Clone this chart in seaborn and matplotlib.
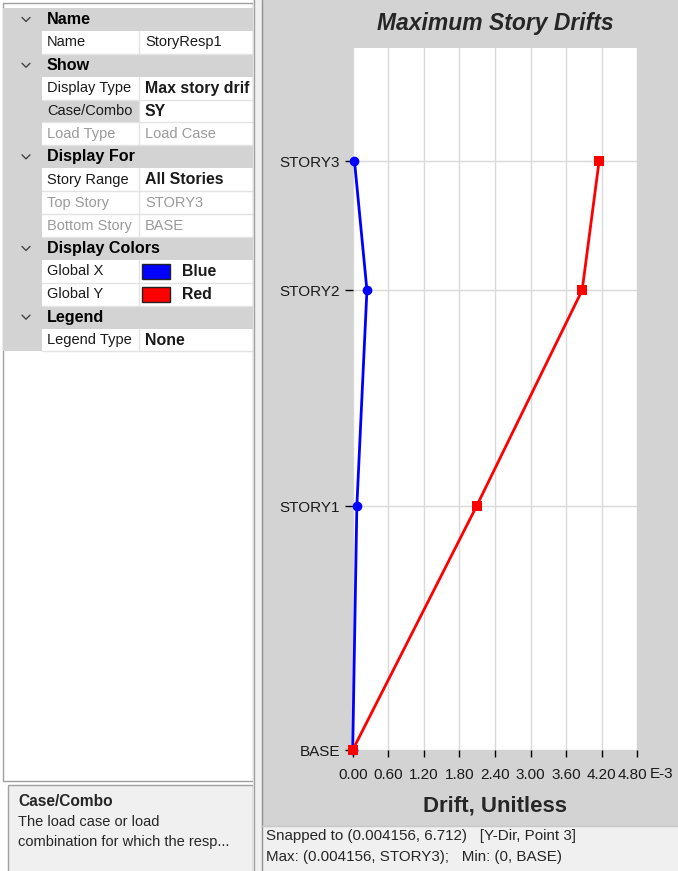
import numpy as np
import pandas as pd
import matplotlib
matplotlib.use("Agg")
import matplotlib.pyplot as plt
import matplotlib.transforms as mtransforms
import seaborn as sns
from matplotlib.patches import Rectangle
from matplotlib.ticker import FormatStrFormatter

# data
stories = ["BASE", "STORY1", "STORY2", "STORY3"]
elev = [0.0, 2.78, 5.24, 6.712]
drift_x = [0.0, 0.07, 0.24, 0.03]      # E-3
drift_y = [0.0, 2.09, 3.87, 4.156]     # E-3
xticks = [0.0, 0.6, 1.2, 1.8, 2.4, 3.0, 3.6, 4.2, 4.8]

grid_rows = [
    ("h", "Name", ""),
    ("n", "Name", "StoryResp1"),
    ("h", "Show", ""),
    ("b", "Display Type", "Max story drif"),
    ("s", "Case/Combo", "SY"),
    ("d", "Load Type", "Load Case"),
    ("h", "Display For", ""),
    ("b", "Story Range", "All Stories"),
    ("d", "Top Story", "STORY3"),
    ("d", "Bottom Story", "BASE"),
    ("h", "Display Colors", ""),
    ("c", "Global X", "Blue"),
    ("c", "Global Y", "Red"),
    ("h", "Legend", ""),
    ("b", "Legend Type", "None"),
]
swatch = {"Blue": "#0000ff", "Red": "#ff0000"}

sns.set_theme(style="white")
plt.rcParams["font.family"] = ["Liberation Sans", "DejaVu Sans"]

W, H = 678, 871
fig = plt.figure(figsize=(W / 100, H / 100), dpi=100)
fig.patch.set_facecolor("white")

# background "window" drawn in pixel coords
bg = fig.add_axes([0, 0, 1, 1])
bg.set_xlim(0, W)
bg.set_ylim(H, 0)
bg.axis("off")

def rect(x, y, w, h, fc, ec="none", lw=0):
    bg.add_patch(Rectangle((x, y), w, h, facecolor=fc, edgecolor=ec, lw=lw))

GRAY = "#d3d3d3"
LINE = "#e3e3e3"

# left panel
rect(3, 3, 250, 778, "white", "#a0a0a0", 1)
row_h = 22.9
top = 8
for i, (kind, label, value) in enumerate(grid_rows):
    y0 = top + i * row_h
    yc = y0 + row_h / 2
    if kind == "h":
        rect(3, y0, 250, row_h, GRAY)
        bg.plot([22, 26, 30], [yc - 2, yc + 2, yc - 2], color="#444444", lw=1)
        bg.text(47, yc, label, fontsize=11.6, fontweight="bold", va="center", color="black")
        continue
    rect(3, y0, 39, row_h, GRAY)
    if kind == "s":
        rect(42, y0, 97, row_h, GRAY)
    bg.plot([42, 253], [y0 + row_h, y0 + row_h], color=LINE, lw=1)
    bg.plot([139, 139], [y0, y0 + row_h], color=LINE, lw=1)
    tcol = "#9a9a9a" if kind == "d" else "#1a1a1a"
    bg.text(47, yc, label, fontsize=10.5, va="center", color=tcol)
    vx = 145
    if kind == "c":
        rect(142, y0 + 4, 28, row_h - 8, swatch[value], "#222222", 1)
        vx = 182
    weight = "bold" if kind in ("b", "s", "c") else "normal"
    bg.text(vx, yc, value, fontsize=11.4 if weight == "bold" else 10.5,
            fontweight=weight, va="center", color=tcol, clip_on=True)

# description box
rect(8, 785, 245, 90, "#f0f0f0", "#a0a0a0", 1)
bg.text(18, 801, "Case/Combo", fontsize=11.2, fontweight="bold", va="center")
bg.text(18, 822, "The load case or load", fontsize=10.5, va="center")
bg.text(18, 842, "combination for which the resp...", fontsize=10.5, va="center")

# splitter
rect(253, 0, 9, H, "#f0f0f0")
bg.plot([253.5, 253.5], [0, H], color="#a0a0a0", lw=1)
bg.plot([261.5, 261.5], [0, H], color="#909090", lw=1)

# chart panel and status bar
rect(262, 0, W - 262, 826, GRAY)
rect(262, 826, W - 262, H - 826, "#f0f0f0")
bg.plot([262, W], [826, 826], color="#c8c8c8", lw=1)
bg.text(266, 836, "Snapped to (0.004156, 6.712)   [Y-Dir, Point 3]", fontsize=10.9, va="center")
bg.text(266, 857, "Max: (0.004156, STORY3);   Min: (0, BASE)", fontsize=10.9, va="center")

# chart
x0, x1, y0, y1 = 352.7, 637.3, 48, 750
ax = fig.add_axes([x0 / W, (H - y1) / H, (x1 - x0) / W, (y1 - y0) / H])
ax.set_facecolor("white")

df = pd.DataFrame({
    "drift": drift_x + drift_y,
    "elev": elev + elev,
    "dir": ["X"] * len(elev) + ["Y"] * len(elev),
})
sns.lineplot(data=df, x="drift", y="elev", hue="dir", style="dir",
             markers={"X": "o", "Y": "s"}, dashes=False,
             palette={"X": "#0000ff", "Y": "#ff0000"},
             sort=False, estimator=None, lw=2, markersize=7,
             markeredgewidth=0, legend=False, ax=ax)
for ln in ax.lines:
    ln.set_clip_on(False)
    ln.set_zorder(3)

ax.set_xlim(0, 4.8)
ax.set_ylim(0, 8)
ax.set_xticks(xticks)
ax.xaxis.set_major_formatter(FormatStrFormatter("%.2f"))
ax.set_yticks(elev)
ax.set_yticklabels(stories)
ax.grid(True, color="#d9d9d9", lw=1)
ax.set_axisbelow(True)
for s in ax.spines.values():
    s.set_visible(False)
ax.tick_params(axis="both", direction="out", length=5, width=1, color="black",
               labelsize=11, labelcolor="#1a1a1a", left=True, bottom=True)
ax.tick_params(axis="x", pad=8)
ax.tick_params(axis="y", pad=3, length=6)
ax.set_xlabel("Drift, Unitless", fontsize=16, fontweight="bold", labelpad=10)
ax.set_ylabel("")
ax.set_title("Maximum Story Drifts", fontsize=16.5, fontweight="bold",
             fontstyle="italic", pad=13)

# last tick label sits a bit left, followed by the exponent
last = ax.xaxis.get_major_ticks()[-1].label1
last.set_transform(last.get_transform() +
                   mtransforms.ScaledTranslation(-0.05, 0, fig.dpi_scale_trans))
bg.text(650, 774, "E-3", fontsize=11, color="#1a1a1a", va="center", ha="left")

fig.savefig("out.png", dpi=100)
